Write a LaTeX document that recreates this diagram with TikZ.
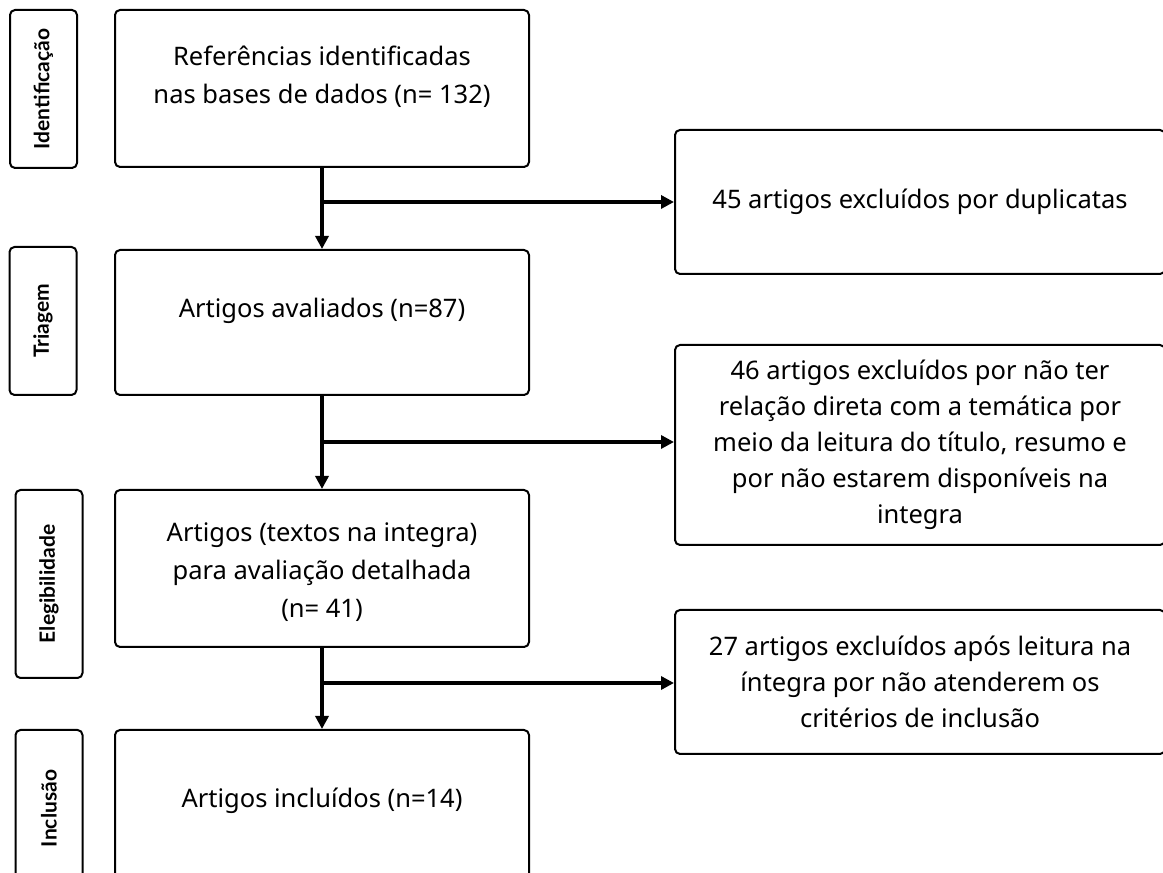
\documentclass[tikz,border=0pt]{standalone}
\usepackage{fontspec}
\setmainfont{Noto Sans}
\newfontfamily\etapafont{Lato}
\usetikzlibrary{arrows.meta}

\begin{document}
\begin{tikzpicture}[>={Triangle[length=13bp,width=13bp]},line join=round,
  etapa/.style={draw=black, line width=2bp, rounded corners=5bp, rotate=90, minimum width=#1, minimum height=67bp, inner sep=0pt, font=\etapafont\fontsize{21bp}{24bp}\selectfont\bfseries},
  caixa/.style={draw=black, line width=2bp, rounded corners=5bp, minimum width=414bp, minimum height=#1, inner sep=0pt},
  lado/.style={draw=black, line width=2bp, rounded corners=5bp, minimum width=490bp, minimum height=#1, inner sep=0pt, align=center, font=\fontsize{25.5bp}{36bp}\selectfont},
  texto/.style={align=center, font=\fontsize{25.5bp}{38bp}\selectfont},
  seta/.style={->, line width=3.5bp} ]
  \clip (0bp,0bp) rectangle (1163bp,873bp);
%%
  % Node: etapas
  \node[etapa=158bp] (ident) at (43.5bp,784bp) {Identificação};
  \node[etapa=148bp] (triag) at (43bp,552bp) {Triagem};
  \node[etapa=188bp] (eleg) at (49bp,289bp) {Elegibilidade};
  \node[etapa=157bp] (incl) at (49bp,64.5bp) {Inclusão};
  % Node: refs
  \node[caixa=157bp] (refs) at (322bp,784.5bp) {};
  \node[texto] (refs-t) at ([yshift=12bp]refs.center) {Referências identificadas\\nas bases de dados (n= 132)};
  % Node: aval
  \node[caixa=145bp] (aval) at (322bp,550.5bp) {};
  \node[texto] (aval-t) at ([yshift=12bp]aval.center) {Artigos avaliados (n=87)};
  % Node: integra
  \node[caixa=157bp] (integra) at (322bp,304.5bp) {};
  \node[texto] (integra-t) at ([yshift=-4bp]integra.center) {Artigos (textos na integra)\\para avaliação detalhada\\(n= 41)};
  % Node: inc
  \node[caixa=157bp] (inc) at (322bp,64.5bp) {};
  \node[texto] (inc-t) at ([yshift=8bp]inc.center) {Artigos incluídos (n=14)};
  % Node: excluidos
  \node[lado=144bp] (dup) at (920bp,671bp) {45 artigos excluídos por duplicatas};
  \node[lado=200bp] (tema) at (920bp,428bp) {46 artigos excluídos por não ter\\relação direta com a temática por\\meio da leitura do título, resumo e\\por não estarem disponíveis na\\integra};
  \node[lado=144bp] (crit) at (920bp,191bp) {27 artigos excluídos após leitura na\\íntegra por não atenderem os\\critérios de inclusão};
%%
  \coordinate (b1) at (322bp,671bp);
  \coordinate (b2) at (322bp,431bp);
  \coordinate (b3) at (322bp,190bp);
  % Edge: refs -- aval
  \draw[seta] (refs.south) -- (aval.north);
  \draw[seta] (b1) -- (b1 -| dup.west);
  % Edge: aval -- integra
  \draw[seta] (aval.south) -- (integra.north);
  \draw[seta] (b2) -- (b2 -| tema.west);
  % Edge: integra -- inc
  \draw[seta] (integra.south) -- (inc.north);
  \draw[seta] (b3) -- (b3 -| crit.west);
%
\end{tikzpicture}
\end{document}
